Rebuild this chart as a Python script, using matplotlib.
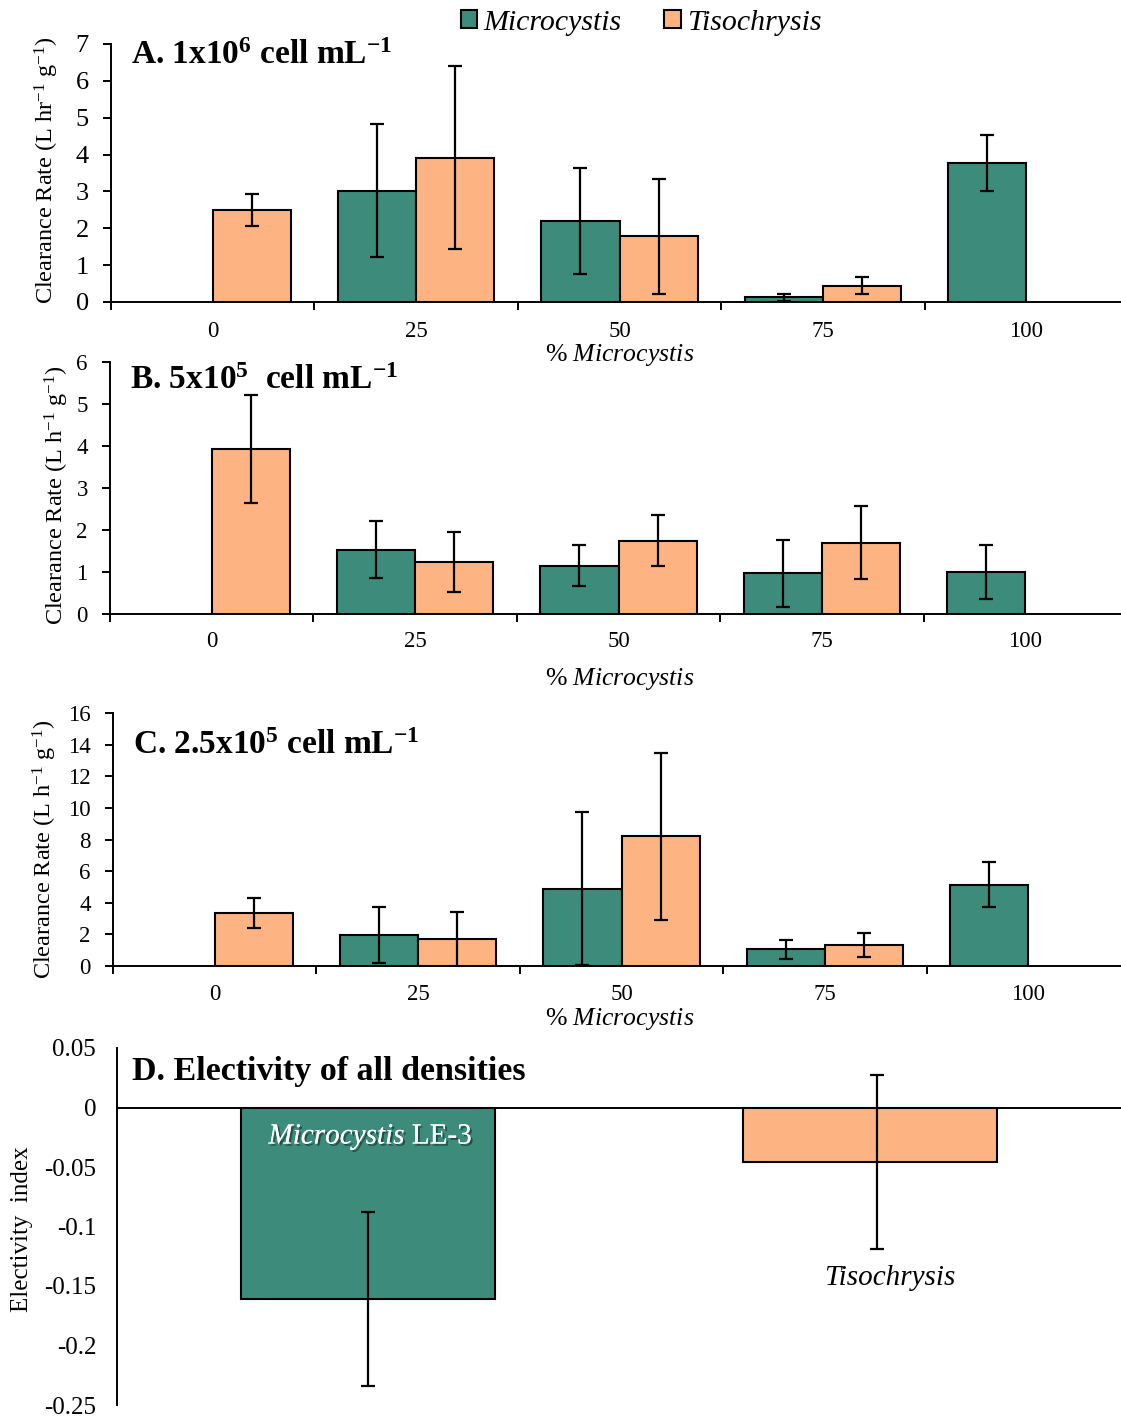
import numpy as np
import matplotlib
matplotlib.use("Agg")
import matplotlib.pyplot as plt
from matplotlib.patches import Patch
import matplotlib.patheffects as pe

plt.rcParams['font.family'] = ['Liberation Serif', 'DejaVu Serif']
plt.rcParams['mathtext.fontset'] = 'custom'
plt.rcParams['mathtext.rm'] = 'Liberation Serif'
plt.rcParams['mathtext.it'] = 'Liberation Serif:italic'
plt.rcParams['mathtext.bf'] = 'Liberation Serif:bold'

# % Microcystis in the mixture
categories = ['0', '25', '50', '75', '100']

# A. 1x10^6 cell/mL
a_micro = [np.nan, 3.02, 2.20, 0.13, 3.77]
a_micro_err = [np.nan, 1.81, 1.43, 0.09, 0.75]
a_tiso = [2.50, 3.92, 1.78, 0.44, np.nan]
a_tiso_err = [0.44, 2.49, 1.55, 0.23, np.nan]

# B. 5x10^5 cell/mL
b_micro = [np.nan, 1.53, 1.15, 0.97, 1.00]
b_micro_err = [np.nan, 0.68, 0.49, 0.80, 0.65]
b_tiso = [3.93, 1.24, 1.75, 1.70, np.nan]
b_tiso_err = [1.28, 0.72, 0.60, 0.86, np.nan]

# C. 2.5x10^5 cell/mL
c_micro = [np.nan, 1.94, 4.90, 1.05, 5.15]
c_micro_err = [np.nan, 1.78, 4.85, 0.60, 1.45]
c_tiso = [3.35, 1.69, 8.20, 1.35, np.nan]
c_tiso_err = [0.97, 1.75, 5.30, 0.75, np.nan]

# D. electivity index
d_species = ['Microcystis', 'Tisochrysis']
d_values = [-0.161, -0.046]
d_err = [0.073, 0.073]

GREEN = '#3d8b7b'
ORANGE = '#feb482'
W, H = 1121, 1418

fig = plt.figure(figsize=(W / 100, H / 100), dpi=100)


def px_axes(left, top, right, bottom):
    return fig.add_axes([left / W, 1 - bottom / H, (right - left) / W, (bottom - top) / H])


def place_ylabel(ax, label_x, label_y):
    ax.yaxis.set_label_coords(label_x / W, 1 - label_y / H, transform=fig.transFigure)
    ax.yaxis.label.set_verticalalignment('center')


def clearance_panel(ax, micro, micro_err, tiso, tiso_err, ymax, step, title, title_y,
                    ytick_size, xpad, xlabel_y):
    x = np.arange(len(categories))
    micro = np.array(micro)
    tiso = np.array(tiso)
    m = ~np.isnan(micro)
    t = ~np.isnan(tiso)
    bw = 0.384
    ax.bar(x[m] - bw / 2, micro[m], bw, color=GREEN, edgecolor='black', linewidth=1.5, zorder=2)
    ax.bar(x[t] + bw / 2, tiso[t], bw, color=ORANGE, edgecolor='black', linewidth=1.5, zorder=2)
    ax.errorbar(x[m] - bw / 2, micro[m], yerr=np.array(micro_err)[m], fmt='none', ecolor='black',
                elinewidth=1.6, capsize=5, capthick=1.6, zorder=3)
    ax.errorbar(x[t] + bw / 2, tiso[t], yerr=np.array(tiso_err)[t], fmt='none', ecolor='black',
                elinewidth=1.6, capsize=5, capthick=1.6, zorder=3)
    ax.set_xlim(-0.5, len(categories) - 0.5)
    ax.set_ylim(0, ymax)
    ax.set_yticks(np.arange(0, ymax + 0.01, step))
    ax.set_xticks(np.arange(-0.5, len(categories), 1.0))
    ax.set_xticklabels([])
    ax.set_xticks(x, minor=True)
    ax.set_xticklabels(categories, minor=True)
    ax.tick_params(axis='x', which='major', direction='out', length=6, width=1.4)
    ax.tick_params(axis='x', which='minor', length=0, pad=xpad, labelsize=16.5)
    ax.tick_params(axis='y', direction='out', length=6, width=1.4, labelsize=ytick_size, pad=10)
    for s in ['top', 'right']:
        ax.spines[s].set_visible(False)
    for s in ['left', 'bottom']:
        ax.spines[s].set_linewidth(1.4)
    ax.set_facecolor('none')
    ax.text(0.02, title_y, title, transform=ax.transAxes, fontsize=24, fontweight='bold', va='baseline')
    ax.yaxis.label.set_fontsize(17.5)
    fig.text(620 / W, 1 - xlabel_y / H, r'% $\mathit{Microcystis}$', fontsize=18.5, ha='center', va='center')


axA = px_axes(111, 44, 1128, 302)
axA.set_ylabel(r'Clearance Rate (L hr$^{-1}$ g$^{-1}$)')
clearance_panel(axA, a_micro, a_micro_err, a_tiso, a_tiso_err, 7, 1,
                r'A. 1x10$^{\mathbf{6}}$ cell mL$^{\mathbf{-1}}$', 0.922, 19, 14, 355)
place_ylabel(axA, 47, 170)

axB = px_axes(110, 362, 1127, 614)
axB.set_ylabel(r'Clearance Rate (L h$^{-1}$ g$^{-1}$)')
clearance_panel(axB, b_micro, b_micro_err, b_tiso, b_tiso_err, 6, 1,
                r'B. 5x10$^{\mathbf{5}}$  cell mL$^{\mathbf{-1}}$', 0.893, 16.5, 12, 679)
place_ylabel(axB, 57, 495)

axC = px_axes(113, 713, 1130, 966)
axC.set_ylabel(r'Clearance Rate (L h$^{-1}$ g$^{-1}$)')
clearance_panel(axC, c_micro, c_micro_err, c_tiso, c_tiso_err, 16, 2,
                r'C. 2.5x10$^{\mathbf{5}}$ cell mL$^{\mathbf{-1}}$', 0.838, 16.5, 13, 1019)
place_ylabel(axC, 45, 849)

# panel D
axD = px_axes(117, 1048, 1121, 1405)
xd = np.arange(len(d_species))
cols = [GREEN, ORANGE]
axD.bar(xd, d_values, 0.506, color=cols, edgecolor='black', linewidth=1.5, zorder=2)
axD.errorbar(xd + np.array([0.0, 0.014]), d_values, yerr=d_err, fmt='none', ecolor='black',
             elinewidth=1.6, capsize=5, capthick=1.6, zorder=3)
axD.set_xlim(-0.5, 1.5)
axD.set_ylim(-0.25, 0.05)
axD.set_yticks([0.05, 0, -0.05, -0.1, -0.15, -0.2, -0.25])
axD.set_yticklabels(['0.05', '0', '-0.05', '-0.1', '-0.15', '-0.2', '-0.25'])
axD.set_xticks([])
axD.tick_params(axis='y', length=0, labelsize=18, pad=15)
axD.spines['bottom'].set_position(('data', 0))
axD.spines['bottom'].set_linewidth(1.4)
axD.spines['left'].set_linewidth(1.4)
for s in ['top', 'right']:
    axD.spines[s].set_visible(False)
axD.set_ylabel('Electivity  index', fontsize=18)
place_ylabel(axD, 22, 1229)
axD.text(-0.47, 0.0233, 'D. Electivity of all densities', fontsize=24.5, fontweight='bold', va='baseline')
axD.text(0.005, -0.025, r'$\mathit{Microcystis}$ LE-3', fontsize=21, color='white', ha='center', va='center',
         path_effects=[pe.withSimplePatchShadow(offset=(1.5, -1.5), shadow_rgbFace='#1f4a40', alpha=0.9), pe.Normal()])
axD.text(1.04, -0.143, 'Tisochrysis', fontsize=21, style='italic', ha='center', va='center')

# legend
handles = [Patch(facecolor=GREEN, edgecolor='black', linewidth=1.5),
           Patch(facecolor=ORANGE, edgecolor='black', linewidth=1.5)]
fig.legend(handles, d_species, loc='center', bbox_to_anchor=(641 / W, 1 - 23 / H), ncol=2, frameon=False,
           handlelength=0.55, handleheight=0.55, handletextpad=0.2, columnspacing=1.45,
           prop={'style': 'italic', 'size': 21.5})

fig.savefig('out.png', dpi=100)
